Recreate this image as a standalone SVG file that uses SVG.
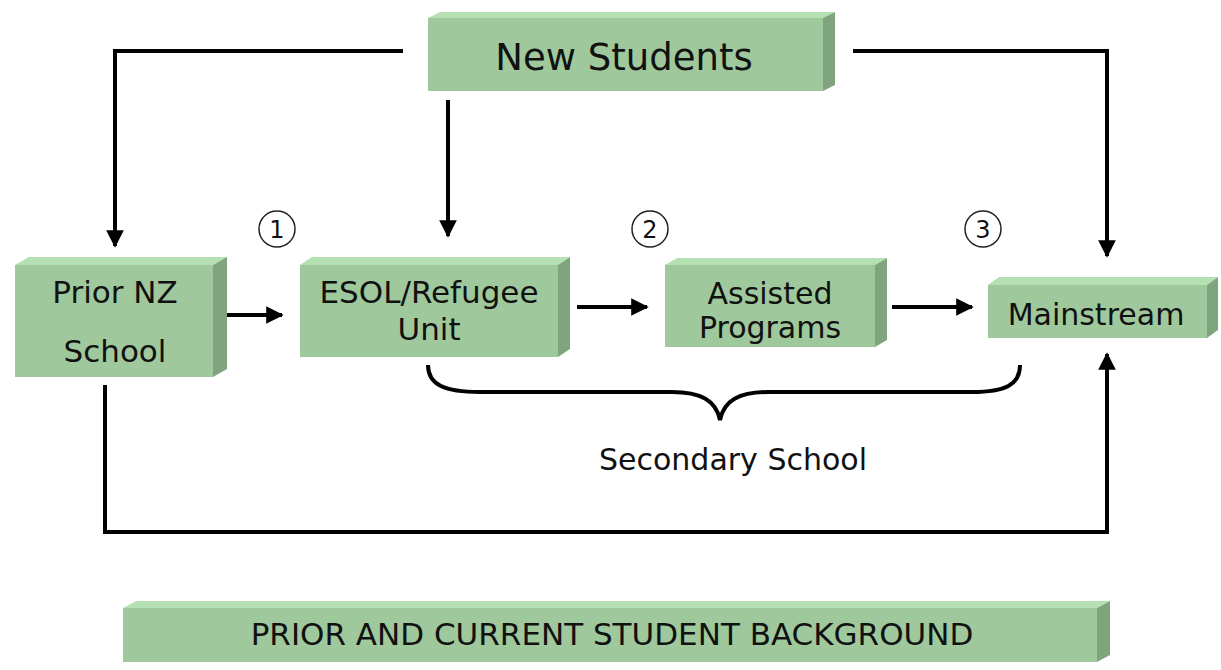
<svg xmlns="http://www.w3.org/2000/svg" width="1221" height="670" viewBox="0 0 1221 670">
  <defs>
    <style>
      .front { fill: #9fc99c; }
      .top { fill: #b5e0b1; }
      .side { fill: #80a57e; }
      .lbl { font-family: "DejaVu Sans", "Liberation Sans", sans-serif; fill: #111; text-anchor: middle; }
      .wire { fill: none; stroke: #000; stroke-width: 4; }
      .num { fill: none; stroke: #222; stroke-width: 1.5; }
    </style>
    <marker id="arrow" viewBox="0 0 10 10" refX="9" refY="5" markerWidth="4.4" markerHeight="4.4" orient="auto" markerUnits="strokeWidth">
      <path d="M0,0 L10,5 L0,10 Z" fill="#000"/>
    </marker>
  </defs>
  <rect width="1221" height="670" fill="#fff"/>

  <!-- connectors -->
  <g id="connectors">
    <path class="wire" d="M403,51 H115 V246" marker-end="url(#arrow)"/>
    <path class="wire" d="M448,100 V236" marker-end="url(#arrow)"/>
    <path class="wire" d="M853,51 H1107 V256" marker-end="url(#arrow)"/>
    <path class="wire" d="M213,315 H282" marker-end="url(#arrow)"/>
    <path class="wire" d="M577,307 H647" marker-end="url(#arrow)"/>
    <path class="wire" d="M892,307 H972" marker-end="url(#arrow)"/>
    <path class="wire" d="M105,385 V532 H1107 V354" marker-end="url(#arrow)"/>
    <!-- brace under the secondary school steps -->
    <path class="wire" d="M428,365 C428,385 445,392 480,392 L672,392 C700,392 716,400 720,420 C724,400 740,392 768,392 L972,392 C1005,392 1020,385 1020,365"/>
  </g>

  <!-- step markers -->
  <g id="step1">
    <circle class="num" cx="277" cy="229" r="18"/>
    <text class="lbl" x="277" y="238" font-size="24">1</text>
  </g>
  <g id="step2">
    <circle class="num" cx="650" cy="229" r="18"/>
    <text class="lbl" x="650" y="238" font-size="24">2</text>
  </g>
  <g id="step3">
    <circle class="num" cx="983" cy="229" r="18"/>
    <text class="lbl" x="983" y="238" font-size="24">3</text>
  </g>

  <g id="new-students">
    <polygon class="top" points="428,18 440,12 835,12 823,18"/>
    <polygon class="side" points="823,18 835,12 835,85 823,91"/>
    <rect class="front" x="428" y="18" width="395" height="73"/>
    <text class="lbl" x="624" y="70" font-size="37">New Students</text>
  </g>

  <g id="prior-nz-school">
    <polygon class="top" points="15,265 29,257 227,257 213,265"/>
    <polygon class="side" points="213,265 227,257 227,369 213,377"/>
    <rect class="front" x="15" y="265" width="198" height="112"/>
    <text class="lbl" x="115" y="303" font-size="31">Prior NZ</text>
    <text class="lbl" x="115" y="362" font-size="31">School</text>
  </g>

  <g id="esol-unit">
    <polygon class="top" points="300,265 312,257 570,257 558,265"/>
    <polygon class="side" points="558,265 570,257 570,349 558,357"/>
    <rect class="front" x="300" y="265" width="258" height="92"/>
    <text class="lbl" x="429" y="303" font-size="31">ESOL/Refugee</text>
    <text class="lbl" x="429" y="340" font-size="31">Unit</text>
  </g>

  <g id="assisted-programs">
    <polygon class="top" points="665,265 677,258 887,258 875,265"/>
    <polygon class="side" points="875,265 887,258 887,340 875,347"/>
    <rect class="front" x="665" y="265" width="210" height="82"/>
    <text class="lbl" x="770" y="304" font-size="30">Assisted</text>
    <text class="lbl" x="770" y="338" font-size="30">Programs</text>
  </g>

  <g id="mainstream">
    <polygon class="top" points="988,285 999,277 1218,277 1207,285"/>
    <polygon class="side" points="1207,285 1218,277 1218,330 1207,338"/>
    <rect class="front" x="988" y="285" width="219" height="53"/>
    <text class="lbl" x="1096" y="325" font-size="30">Mainstream</text>
  </g>

  <g id="secondary-school">
    <text class="lbl" x="733" y="470" font-size="30">Secondary School</text>
  </g>

  <g id="background-banner">
    <polygon class="top" points="123,608 136,601 1110,601 1097,608"/>
    <polygon class="side" points="1097,608 1110,601 1110,655 1097,662"/>
    <rect class="front" x="123" y="608" width="974" height="54"/>
    <text class="lbl" x="612" y="645" font-size="31">PRIOR AND CURRENT STUDENT BACKGROUND</text>
  </g>
</svg>
